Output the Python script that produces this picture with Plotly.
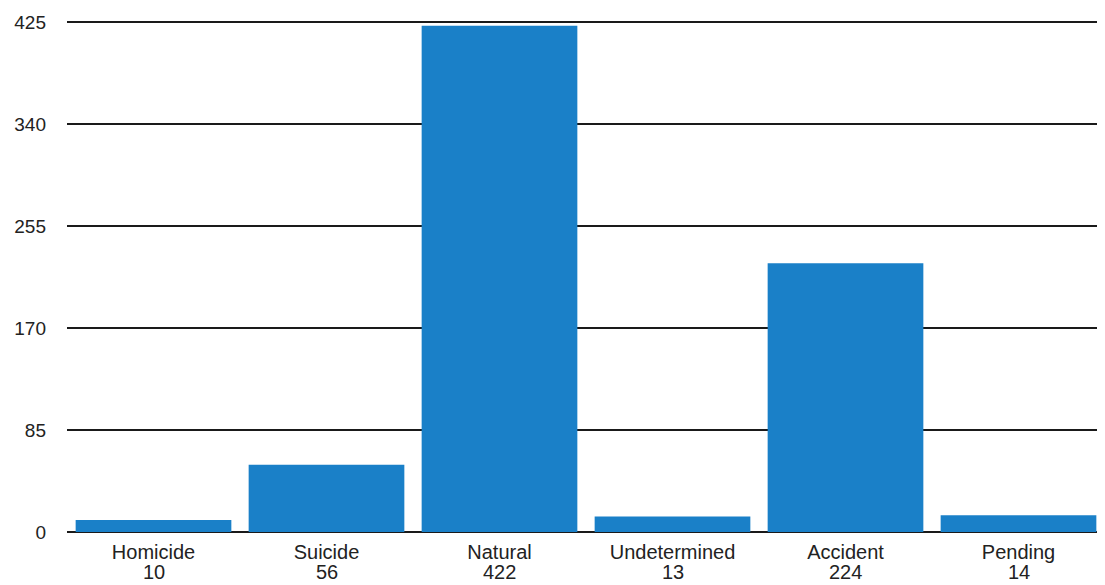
import plotly.graph_objects as go

categories = ["Homicide", "Suicide", "Natural", "Undetermined", "Accident", "Pending"]
values = [10, 56, 422, 13, 224, 14]
y_ticks = [0, 85, 170, 255, 340, 425]

fig = go.Figure(go.Bar(
    x=categories, y=values,
    marker=dict(color="#1a80c8", line=dict(width=0)),
    width=0.9,
))

for c, v in zip(categories, values):
    fig.add_annotation(
        x=c, y=0, xref="x", yref="y", text=str(v), showarrow=False,
        yanchor="middle", yshift=-40,
        font=dict(size=20, color="#222222", family="Liberation Sans, Arial, sans-serif"),
    )

fig.update_layout(
    width=1097, height=577,
    margin=dict(l=59, r=0, t=13, b=53, autoexpand=False),
    paper_bgcolor="white", plot_bgcolor="white",
    font=dict(family="Liberation Sans, Arial, sans-serif", color="#222222"),
    showlegend=False,
)
fig.update_xaxes(
    tickfont=dict(size=20), showgrid=False, showline=False, ticks="",
    ticklabelstandoff=6, automargin=False,
)
fig.update_yaxes(
    range=[0, 426], tickvals=y_ticks, ticktext=[str(t) for t in y_ticks],
    showgrid=True, gridcolor="#1a1a1a", gridwidth=1.5,
    zeroline=True, zerolinecolor="#1a1a1a", zerolinewidth=1.5,
    tickfont=dict(size=19), ticklabelstandoff=20, showline=False,
    automargin=False,
)

fig.write_html("out.html")
